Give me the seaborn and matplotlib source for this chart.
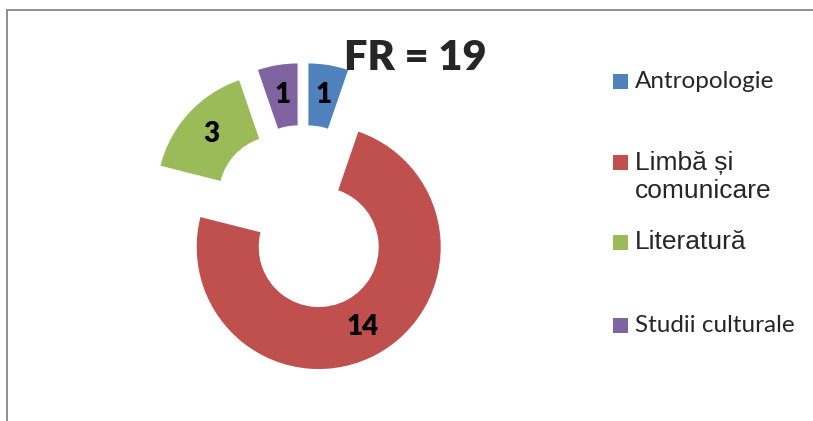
import seaborn as sns
import matplotlib.pyplot as plt
from matplotlib.patches import Rectangle

categories = ["Antropologie", "Limbă și\ncomunicare", "Literatură", "Studii culturale"]
counts = [1, 14, 3, 1]
colors = ["#4F81BD", "#C0504D", "#9BBB59", "#8064A2"]
title = "FR = 19"

W, H = 813, 421


def px_y(y):
    # image row (top down) -> data y (bottom up)
    return H - y


sns.set_theme(style="white")
plt.rcParams['font.family'] = ['Lato', 'DejaVu Sans']

fig = plt.figure(figsize=(W / 100, H / 100), dpi=100)
ax = fig.add_axes([7 / W, 0, 1 - 7 / W, 411 / H])

total = sum(counts)
wedges, texts, autotexts = ax.pie(
    counts,
    colors=sns.color_palette(colors),
    center=(303, px_y(218)),
    radius=122,
    explode=[33] * len(counts),
    startangle=90,
    counterclock=False,
    wedgeprops=dict(width=62, linewidth=0),
    autopct=lambda p: "{0}".format(int(round(p * total / 100))),
    pctdistance=0.75,
    textprops=dict(fontsize=20, fontweight="heavy", color="black"),
)

ax.set_xlim(7, W)
ax.set_ylim(0, 411)
ax.set_aspect("equal")
ax.set_xticks([])
ax.set_yticks([])
ax.set_frame_on(True)
for side in ["right", "bottom"]:
    ax.spines[side].set_visible(False)
for side in ["left", "top"]:
    ax.spines[side].set_visible(True)
    ax.spines[side].set_color("#878787")
    ax.spines[side].set_linewidth(1.3)

fig.text(415 / W, 1 - 58 / H, title, fontsize=30, fontweight="heavy",
         ha="center", va="center")

# legend, Excel-like layout
legend_rows = [81, 177, 242, 325]
marker_rows = [81, 162, 242, 325]
label_fonts = [("Lato", 17.5), ("Liberation Sans", 19), ("Liberation Sans", 19), ("Lato", 17.5)]
for lab, col, ty, my, (fam, fs) in zip(categories, colors, legend_rows, marker_rows, label_fonts):
    fig.patches.append(Rectangle((613 / W, 1 - (my + 7.5) / H), 15 / W, 15 / H,
                                 transform=fig.transFigure, facecolor=col,
                                 edgecolor="none"))
    fig.text(635 / W, 1 - ty / H, lab, fontsize=fs, family=[fam, "DejaVu Sans"],
             ha="left", va="center", linespacing=1.2)

fig.savefig("out.png", dpi=100)
